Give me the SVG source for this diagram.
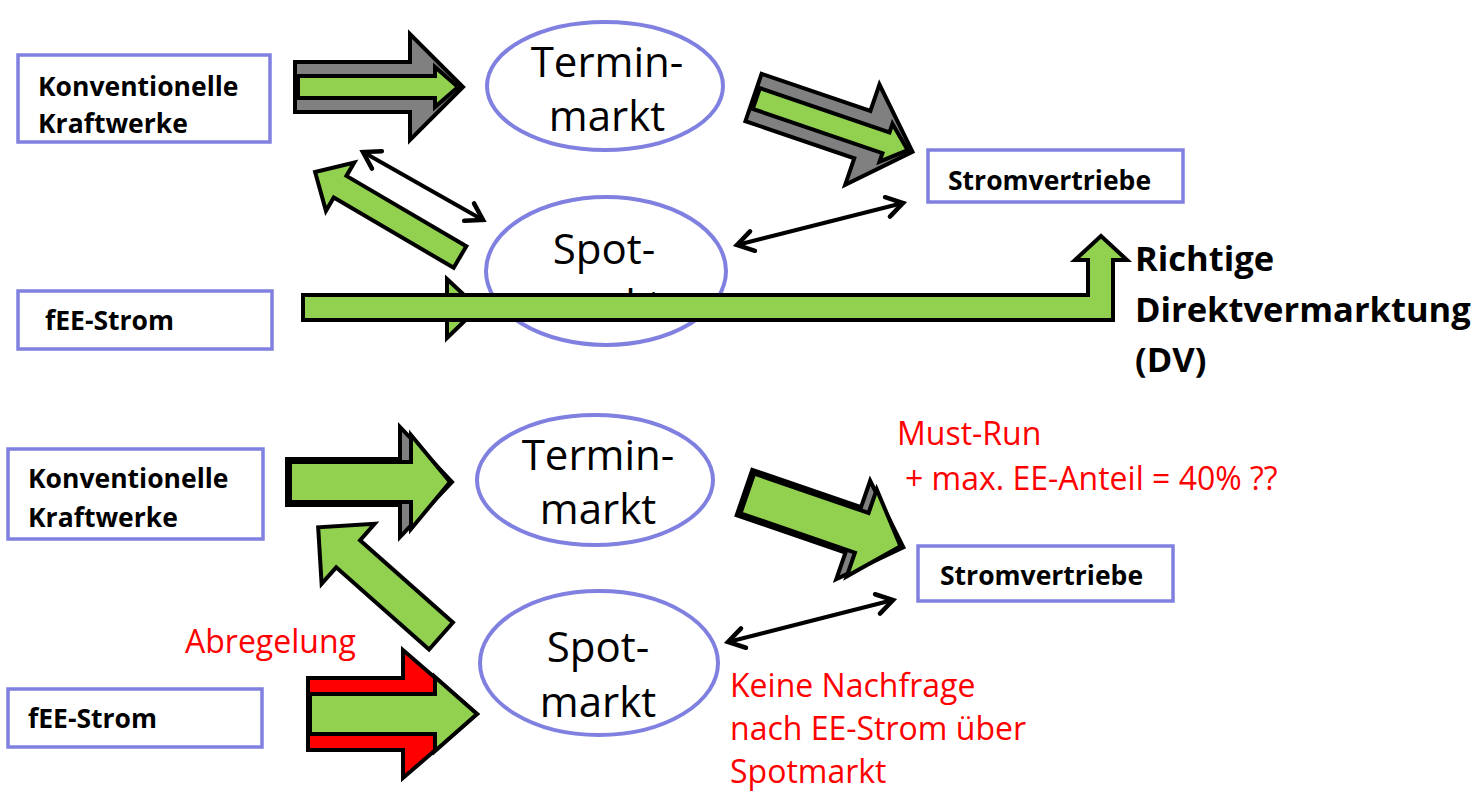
<svg xmlns="http://www.w3.org/2000/svg" width="1478" height="791" viewBox="0 0 1478 791">
<style>
.box{fill:#fff;stroke:#8080e0;stroke-width:3.5}
.ell{fill:#fff;stroke:#8080e0;stroke-width:4}
.bt{font-family:"Open Sans","Liberation Sans",sans-serif;font-weight:bold;font-size:26.5px;fill:#000}
.et{font-family:"Open Sans","Liberation Sans",sans-serif;font-size:42px;fill:#000;text-anchor:middle}
.rt{font-family:"Open Sans","Liberation Sans",sans-serif;font-size:32px;fill:#ff0000}
.big{font-family:"Open Sans","Liberation Sans",sans-serif;font-weight:bold;font-size:34.5px;fill:#000}
.gray{fill:#808080;stroke:#000;stroke-width:4;stroke-linejoin:miter}
.green{fill:#92d050;stroke:#000;stroke-width:4;stroke-linejoin:miter}
.red{fill:#ff0000;stroke:#000;stroke-width:4;stroke-linejoin:miter}
.thin{fill:none;stroke:#000;stroke-width:4}
</style>
<defs>
<marker id="chev" markerUnits="userSpaceOnUse" viewBox="-20 -13 24 26" refX="0" refY="0" markerWidth="24" markerHeight="26" orient="auto-start-reverse">
<path d="M-16,-10 L0,0 L-16,10" fill="none" stroke="#000" stroke-width="4.5" stroke-linecap="round" stroke-linejoin="miter"/>
</marker>
</defs>

<g id="connectors">
<polygon class="green" points="447,279 478,308 447,338"/>
<g transform="translate(295,87)">
<path class="gray" d="M0,-25 L115,-25 L115,-53 L168,0 L115,53 L115,25 L0,25 Z"/>
<path class="green" d="M3,-11 L140,-11 L140,-20 L163,0 L140,20 L140,11 L3,11 Z"/>
</g>
<g transform="translate(753.5,97.5) rotate(18.86)">
<path class="gray" d="M0,-25 L115,-25 L115,-53 L168,0 L115,53 L115,25 L0,25 Z"/>
<path class="green" d="M3,-11 L140,-11 L140,-20 L163,0 L140,20 L140,11 L3,11 Z"/>
</g>
<g transform="translate(460,257) rotate(210.4)">
<path class="green" d="M0,-12.5 L139,-12.5 L139,-28 L168,0 L139,28 L139,12.5 L0,12.5 Z"/>
</g>
<line class="thin" x1="363" y1="152" x2="483" y2="220" marker-start="url(#chev)" marker-end="url(#chev)"/>
<line class="thin" x1="737" y1="245" x2="903" y2="203" marker-start="url(#chev)" marker-end="url(#chev)"/>

<g transform="translate(287,482)">
<path class="gray" d="M0,-23 L113,-23 L113,-55 L165,0 L113,55 L113,23 L0,23 Z"/>
<path class="green" d="M3,-20 L124,-20 L124,-47 L163,0 L124,47 L124,20 L3,20 Z"/>
</g>
<g transform="translate(744.5,492.5) rotate(19)">
<path class="gray" d="M0,-24 L115,-24 L115,-52 L168,0 L115,52 L115,24 L0,24 Z"/>
<path class="green" d="M3,-21 L124,-21 L124,-46 L165,0 L124,46 L124,21 L3,21 Z"/>
</g>
<g transform="translate(441,636) rotate(221.5)">
<path class="green" d="M0,-18 L124,-18 L124,-40 L164,0 L124,40 L124,18 L0,18 Z"/>
</g>
<g transform="translate(308,714)">
<path class="red" d="M0,-36 L95,-36 L95,-64 L169,0 L95,64 L95,36 L0,36 Z"/>
<path class="green" d="M2,-20 L127,-20 L127,-37 L169,0 L127,37 L127,20 L2,20 Z"/>
</g>
<line class="thin" x1="728" y1="642" x2="893" y2="600" marker-start="url(#chev)" marker-end="url(#chev)"/>
</g>

<g id="termin-top">
<ellipse class="ell" cx="605" cy="86" rx="118" ry="64"/>
<text class="et" x="607" y="77">Termin-</text>
<text class="et" x="607" y="131">markt</text>
</g>
<g id="spot-top">
<ellipse class="ell" cx="606" cy="271" rx="120" ry="74"/>
<text class="et" x="604" y="264">Spot-</text>
<text class="et" x="604" y="320">markt</text>
</g>

<g id="dv-arrow">
<polygon class="green" points="303,295 1088,295 1088,260 1075,260 1101,236 1127,260 1113,260 1113,320 303,320"/>
</g>

<g id="konv-top">
<rect class="box" x="18" y="55" width="252" height="87"/>
<text class="bt" x="38" y="96">Konventionelle</text>
<text class="bt" x="38" y="133">Kraftwerke</text>
</g>
<g id="strom-top">
<rect class="box" x="928" y="150" width="255" height="52"/>
<text class="bt" x="948" y="190">Stromvertriebe</text>
</g>
<g id="fee-top">
<rect class="box" x="18" y="291" width="254" height="58"/>
<text class="bt" x="45" y="330">fEE-Strom</text>
</g>
<g id="dv-label">
<text class="big" x="1135" y="271">Richtige</text>
<text class="big" x="1135" y="322">Direktvermarktung</text>
<text class="big" x="1135" y="372">(DV)</text>
</g>

<g id="termin-bottom">
<ellipse class="ell" cx="595" cy="480" rx="118" ry="65"/>
<text class="et" x="598" y="470">Termin-</text>
<text class="et" x="598" y="524">markt</text>
</g>
<g id="spot-bottom">
<ellipse class="ell" cx="599" cy="663" rx="119" ry="72"/>
<text class="et" x="598" y="662">Spot-</text>
<text class="et" x="598" y="717">markt</text>
</g>
<g id="konv-bottom">
<rect class="box" x="8" y="449" width="255" height="90"/>
<text class="bt" x="28" y="488">Konventionelle</text>
<text class="bt" x="28" y="527">Kraftwerke</text>
</g>
<g id="strom-bottom">
<rect class="box" x="918" y="546" width="255" height="55"/>
<text class="bt" x="940" y="585">Stromvertriebe</text>
</g>
<g id="fee-bottom">
<rect class="box" x="8" y="689" width="254" height="58"/>
<text class="bt" x="28" y="728">fEE-Strom</text>
</g>

<g id="labels">
<text class="rt" x="897" y="445">Must-Run</text>
<text class="rt" x="905" y="490">+ max. EE-Anteil = 40% ??</text>
<text class="rt" x="185" y="653">Abregelung</text>
<text class="rt" x="730" y="697">Keine Nachfrage</text>
<text class="rt" x="730" y="740">nach EE-Strom über</text>
<text class="rt" x="730" y="783">Spotmarkt</text>
</g>
</svg>
